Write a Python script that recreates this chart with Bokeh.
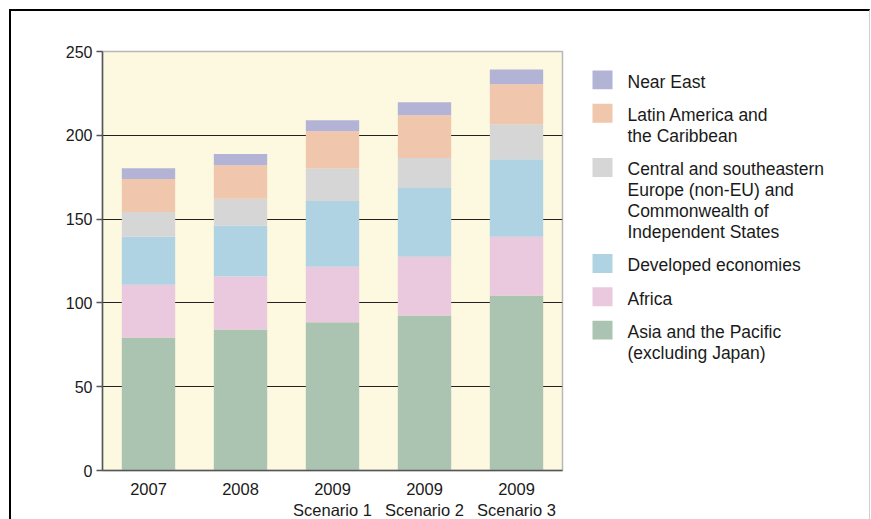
from bokeh.plotting import figure
from bokeh.layouts import row
from bokeh.models import FactorRange, Range1d, SingleIntervalTicker, ColumnDataSource
from bokeh.core.properties import value
from bokeh.embed import file_html
from bokeh.resources import INLINE

categories = ["2007", "2008", "2009\nScenario 1", "2009\nScenario 2", "2009\nScenario 3"]
asia_pacific = [79.4, 84.2, 88.4, 92.5, 104.4]
africa = [31.5, 31.5, 33.2, 35.1, 35.1]
developed = [28.6, 30.3, 39.2, 41.0, 46.2]
central_se_europe_cis = [14.8, 16.2, 19.6, 17.8, 20.9]
latin_america = [19.6, 20.0, 22.0, 25.5, 23.8]
near_east = [6.5, 6.6, 6.6, 7.8, 8.9]

series_keys = ["asia", "africa", "dev", "cse", "latam", "ne"]
series_labels = [
    "Asia and the Pacific\n(excluding Japan)",
    "Africa",
    "Developed economies",
    "Central and southeastern\nEurope (non-EU) and\nCommonwealth of\nIndependent States",
    "Latin America and\nthe Caribbean",
    "Near East",
]
colors = ["#abc4b1", "#eac9de", "#afd3e3", "#d6d6d6", "#f0c6ad", "#b3b3d6"]

data = dict(cat=categories, asia=asia_pacific, africa=africa, dev=developed,
            cse=central_se_europe_cis, latam=latin_america, ne=near_east)

FONT = "Liberation Sans"
TEXT_COLOR = "#1a1a1a"
H = 510
FRAME_TOP, FRAME_BOTTOM = 50, 471   # page pixels of the (shared, aligned) plot frame

# ---------------- main chart ----------------
p = figure(x_range=FactorRange(factors=categories, range_padding=0),
           y_range=(0, 250), width=564, height=H,
           output_backend="svg", toolbar_location=None,
           min_border_left=91, min_border_top=40, min_border_right=13, min_border_bottom=48,
           background_fill_color="#fdf8e0", border_fill_color="white",
           outline_line_color="#b8b8b8", outline_line_width=1.5)
p.margin = (9, 0, 0, 9)
p.styles = {"border-top": "2px solid #000", "border-left": "2px solid #000"}

renderers = p.vbar_stack(series_keys, x="cat", width=0.58, color=colors, line_color=None, source=data)

p.yaxis.ticker = SingleIntervalTicker(interval=50)
p.yaxis.minor_tick_line_color = None
p.yaxis.major_tick_in = 0
p.yaxis.major_tick_out = 6
p.yaxis.axis_line_color = "#555555"
p.yaxis.axis_line_width = 1.5
p.yaxis.major_tick_line_color = "#555555"
p.yaxis.major_tick_line_width = 1.5
p.yaxis.major_label_standoff = 4
p.yaxis.major_label_text_font = FONT
p.yaxis.major_label_text_font_size = "16px"
p.yaxis.major_label_text_color = TEXT_COLOR

p.xaxis.major_tick_in = 0
p.xaxis.major_tick_out = 0
p.xaxis.axis_line_color = "#555555"
p.xaxis.axis_line_width = 1.5
p.xaxis.major_label_standoff = 9
p.xaxis.major_label_text_font = FONT
p.xaxis.major_label_text_font_size = "16.5px"
p.xaxis.major_label_text_color = TEXT_COLOR
p.xaxis.major_label_text_line_height = 1.18

p.xgrid.grid_line_color = None
p.ygrid.grid_line_color = "#222222"
p.ygrid.grid_line_width = 1

# ---------------- legend panel ----------------
LW = 871 - 9 - 564 - 1
leg = figure(width=LW, height=H, x_range=Range1d(0, LW), y_range=Range1d(FRAME_BOTTOM, FRAME_TOP),
             output_backend="svg", toolbar_location=None,
             x_axis_type=None, y_axis_type=None, min_border=0,
             outline_line_color=None, background_fill_color="white", border_fill_color="white")
leg.grid.visible = False
leg.margin = (9, 0, 0, 0)
leg.styles = {"border-top": "2px solid #000", "border-right": "1px solid #d0d0d0"}

# legend layout (page pixels vertically), top item first
line_h = 21
item_gap = 12.5
y_cursor = 80.5
sw_x, sw_w, sw_h = 29, 20, 19
tx_x = 54
sw = dict(x=[], y=[], color=[])
tx = dict(x=[], y=[], text=[])
for lab, col in zip(series_labels[::-1], colors[::-1]):
    lines = lab.split("\n")
    sw["x"].append(sw_x)
    sw["y"].append(y_cursor - 2)
    sw["color"].append(col)
    for i, ln in enumerate(lines):
        tx["x"].append(tx_x)
        tx["y"].append(y_cursor + i * line_h)
        tx["text"].append(ln)
    y_cursor += len(lines) * line_h + item_gap

leg.rect(x="x", y="y", width=sw_w, height=sw_h, fill_color="color", line_color=None,
         source=ColumnDataSource(sw))
leg.text(x="x", y="y", text="text", source=ColumnDataSource(tx),
         text_font=value(FONT), text_font_size=value("17.5px"), text_color=TEXT_COLOR,
         text_baseline="middle", text_align="left")

layout = row(p, leg)
open("out.html", "w").write(file_html(layout, INLINE))
